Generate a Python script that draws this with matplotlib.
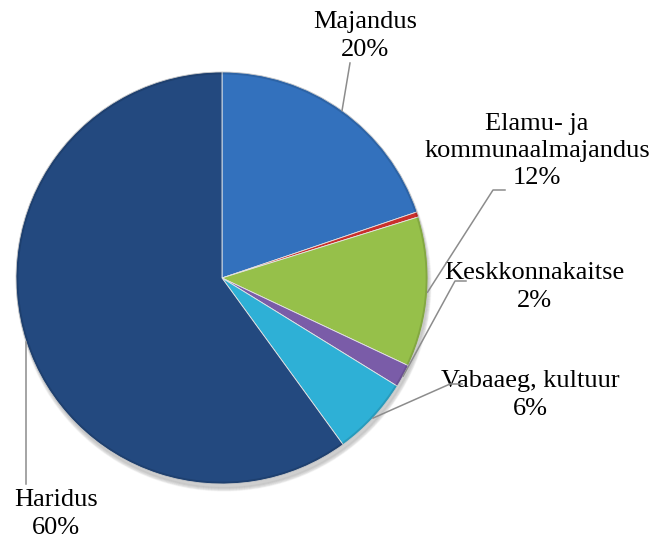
import numpy as np
import matplotlib
matplotlib.use("Agg")
import matplotlib.pyplot as plt

# data
categories = ["Majandus", "Muu", "Elamu- ja\nkommunaalmajandus", "Keskkonnakaitse",
              "Vabaaeg, kultuur", "Haridus"]
values = [19.8, 0.4, 11.8, 1.8, 6.2, 60.0]
shown_pct = ["20%", None, "12%", "2%", "6%", "60%"]
colors = ["#3371BD", "#C9302C", "#96C04A", "#7A5CA8", "#2EB0D6", "#23497F"]

W, H = 654, 539
fig = plt.figure(figsize=(W / 100, H / 100), dpi=100)
ax = fig.add_axes([0, 0, 1, 1])
ax.set_xlim(0, W)
ax.set_ylim(0, H)
ax.set_aspect("equal")
ax.axis("off")

cx, cy, r = 222, H - 278, 206

# soft shadow
for k in range(8):
    sh = plt.Circle((cx + 2, cy - 6), r + 1 - k * 0.5, color="black", alpha=0.025, zorder=0)
    ax.add_patch(sh)

wedges, _ = ax.pie(values, colors=colors, startangle=90, counterclock=False,
                   center=(cx, cy), radius=r, frame=True,
                   wedgeprops=dict(edgecolor="#e6e6e6", linewidth=0.6))
ax.set_xlim(0, W)
ax.set_ylim(0, H)
ax.axis("off")

# subtle bevel: darker rim
rim = plt.Circle((cx, cy), r - 1, fill=False, edgecolor="#000000", alpha=0.12, linewidth=2, zorder=5)
ax.add_patch(rim)

font = dict(family=["Liberation Serif", "DejaVu Serif"], fontsize=19, color="black")
lc = "#8c8c8c"

# label layout (pixel coords, y downward): text center, leader elbow points
layout = {
    0: dict(text=(365, 36), pts=[(350, 63)]),
    2: dict(text=(537, 151), pts=[(493, 190), (505, 190)]),
    3: dict(text=(534, 287), pts=[(455, 281), (466, 281)]),
    4: dict(text=(530, 395), pts=[(450, 384), (462, 384)]),
    5: dict(text=(56, 514), pts=[(26, 484)]),
}

for i, w in enumerate(wedges):
    if i not in layout:
        continue
    mid = np.deg2rad((w.theta1 + w.theta2) / 2)
    ax_x = cx + r * np.cos(mid)
    ax_y = cy + r * np.sin(mid)
    L = layout[i]
    xs = [ax_x] + [p[0] for p in L["pts"]]
    ys = [ax_y] + [H - p[1] for p in L["pts"]]
    if i == 5:
        xs[1] = ax_x
    ax.plot(xs, ys, color=lc, linewidth=1.1, zorder=6)
    tx, ty = L["text"]
    ax.text(tx, H - ty, categories[i] + "\n" + shown_pct[i], ha="center", va="center",
            linespacing=1.3, **font)

fig.savefig("out.png", dpi=100)
